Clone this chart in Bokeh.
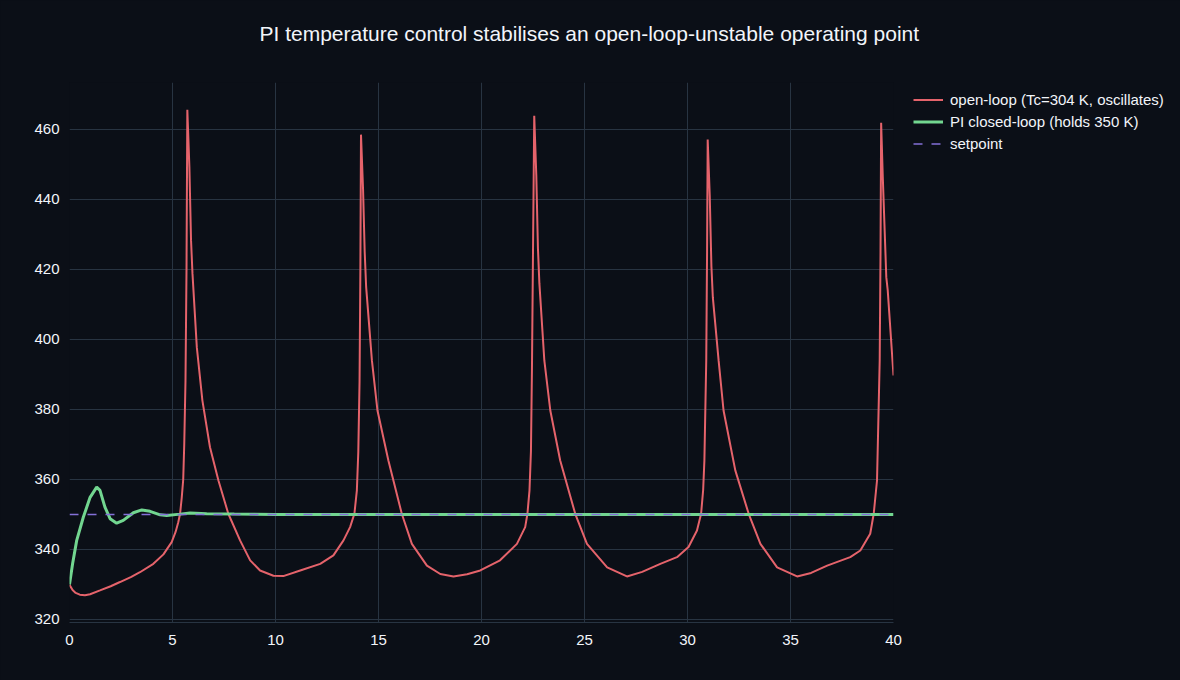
from bokeh.plotting import figure
from bokeh.models import Legend, LegendItem, FixedTicker, Title
from bokeh.embed import file_html
from bokeh.resources import INLINE

# open-loop reactor temperature (K)
t_open = [0.00, 0.15, 0.30, 0.50, 0.75, 1.00, 1.48, 2.00, 2.45, 3.00, 3.42, 4.07, 4.56, 4.96,
          5.15, 5.28, 5.37, 5.45, 5.52, 5.57, 5.63, 5.68, 5.72,
          5.82, 5.90, 5.97, 6.18, 6.45, 6.82, 7.23, 7.71, 8.28, 8.77, 9.25, 9.90, 10.38,
          11.20, 12.17, 12.81, 13.30, 13.62, 13.83, 13.95, 14.02, 14.08, 14.12, 14.15,
          14.25, 14.33, 14.40, 14.68, 14.95, 15.48, 16.13, 16.62, 17.35, 18.00, 18.64,
          19.30, 19.94, 20.90, 21.72, 22.12, 22.23, 22.33, 22.40, 22.45, 22.50, 22.56,
          22.66, 22.74, 22.81, 23.05, 23.34, 23.82, 24.55, 25.12, 26.10, 27.06, 27.80,
          28.68, 29.49, 30.05, 30.46, 30.66, 30.76, 30.82, 30.91, 30.95, 30.98,
          31.08, 31.16, 31.23, 31.51, 31.75, 32.32, 32.97, 33.54, 34.35, 35.32, 36.00,
          36.78, 37.90, 38.39, 38.87, 39.04, 39.20, 39.33, 39.37, 39.40,
          39.48, 39.65, 39.72, 40.00]
T_open = [329.9, 328.4, 327.6, 327.1, 326.9, 327.2, 328.3, 329.5, 330.7, 332.2, 333.5, 335.9, 338.6, 342.1,
          345.0, 347.8, 350.3, 354.9, 360.0, 370.0, 388.0, 420.0, 465.6,
          449.2, 428.3, 418.8, 397.8, 382.6, 369.2, 359.7, 350.2, 342.6, 336.9, 334.0, 332.5, 332.4,
          334.0, 335.9, 338.3, 342.6, 346.4, 350.2, 356.9, 368.0, 388.0, 420.0, 458.5,
          443.0, 425.0, 415.0, 394.0, 379.7, 365.4, 350.2, 341.6, 335.4, 333.0, 332.3,
          332.9, 334.0, 336.9, 341.6, 346.4, 350.2, 356.9, 368.0, 392.0, 425.0, 463.9,
          447.0, 426.0, 416.0, 394.0, 379.7, 365.4, 350.2, 341.6, 334.9, 332.3, 333.6,
          335.9, 337.8, 340.7, 345.4, 350.2, 357.0, 365.4, 394.0, 425.0, 457.1,
          441.0, 421.0, 412.0, 394.0, 379.7, 362.6, 350.2, 341.6, 334.9, 332.3, 333.3,
          335.4, 337.8, 339.7, 344.5, 350.2, 359.7, 394.0, 425.0, 461.9,
          446.4, 417.8, 414.0, 389.7]

# PI closed-loop temperature (K)
t_pi = [0.00, 0.15, 0.35, 0.67, 1.00, 1.32, 1.48, 1.72, 1.97, 2.29, 2.61, 3.10, 3.51, 3.91,
        4.40, 4.72, 5.37, 5.85, 6.66, 8.0, 10.0, 20.0, 30.0, 40.0]
T_pi = [330.0, 335.9, 342.6, 349.2, 354.9, 357.8, 356.9, 352.1, 348.8, 347.5, 348.3, 350.5, 351.3, 350.9,
        349.9, 349.7, 350.1, 350.4, 350.2, 350.1, 350.0, 350.0, 350.0, 350.0]

t_set = [0, 40]
T_set = [350, 350]

x_ticks = [0, 5, 10, 15, 20, 25, 30, 35, 40]
y_ticks = [320, 340, 360, 380, 400, 420, 440, 460]

BG = "#0b0f17"
GRID = "#283442"
TXT = "#f2f5fa"
FONT = "Liberation Sans"

p = figure(frame_width=824, frame_height=540, x_range=(0, 40), y_range=(319.14, 473.4),
           output_backend="svg", toolbar_location=None, title=None,
           min_border_left=69, min_border_right=0, min_border_top=82, min_border_bottom=58)
p.background_fill_color = BG
p.border_fill_color = BG
p.outline_line_color = None

# empty spacer next to the frame pushes the real title up
spacer = Title(text=" ", text_font_size="1px", standoff=35)
p.add_layout(spacer, "above")
title = Title(text="PI temperature control stabilises an open-loop-unstable operating point",
              align="left", offset=190, text_font=FONT, text_font_size="21px",
              text_color=TXT, text_font_style="normal", standoff=0)
p.add_layout(title, "above")

r_open = p.line(t_open, T_open, line_color="#e5636b", line_width=2)
r_pi = p.line(t_pi, T_pi, line_color="#72d690", line_width=3)
r_set = p.line(t_set, T_set, line_color="#8470d8", line_width=1.5, line_dash="9 9")

for ax in (p.xaxis[0], p.yaxis[0]):
    ax.major_tick_line_color = None
    ax.minor_tick_line_color = None
    ax.major_label_text_color = TXT
    ax.major_label_text_font = FONT
    ax.major_label_text_font_size = "15px"
p.xaxis.axis_line_color = GRID
p.yaxis.axis_line_color = None
p.xaxis.major_label_standoff = 6
p.yaxis.major_label_standoff = 4
p.xaxis.ticker = FixedTicker(ticks=x_ticks)
p.yaxis.ticker = FixedTicker(ticks=y_ticks)
p.xgrid.ticker = FixedTicker(ticks=x_ticks[:-1])
p.grid.grid_line_color = GRID
p.grid.grid_line_width = 1

legend = Legend(items=[
    LegendItem(label="open-loop (Tc=304 K, oscillates)", renderers=[r_open]),
    LegendItem(label="PI closed-loop (holds 350 K)", renderers=[r_pi]),
    LegendItem(label="setpoint", renderers=[r_set]),
], location=(20, 469), padding=0, margin=0, spacing=3,
    label_height=19, glyph_height=19, glyph_width=30, label_standoff=7,
    label_text_font=FONT, label_text_font_size="15px", label_text_color=TXT,
    background_fill_alpha=0, border_line_color=None)
p.add_layout(legend, "right")
p.min_border_right = 287

html = file_html(p, INLINE)
# dark page behind the canvas so no light seam shows at the frame edges
html = html.replace("</head>", "<style>body { background: #0b0f17; }</style></head>", 1)
open("out.html", "w").write(html)
